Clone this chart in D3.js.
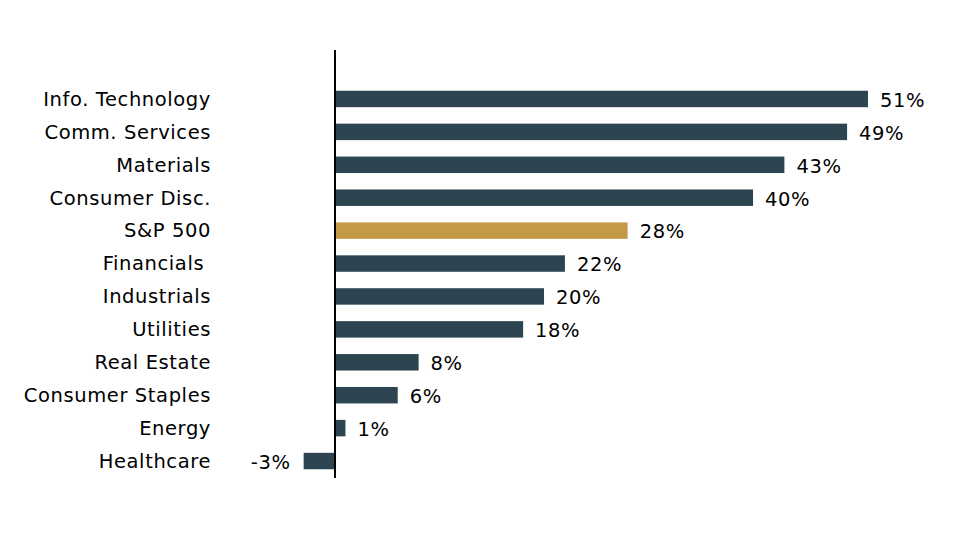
<!DOCTYPE html>
<html><head><meta charset="utf-8">
<script src="https://cdn.jsdelivr.net/npm/d3@7"></script>
<style>body{margin:0;background:#fff}text{font-family:Verdana,"DejaVu Sans",sans-serif}</style>
</head><body><svg id="c" width="970" height="538"></svg>
<script>
const categories = ["Info. Technology","Comm. Services","Materials","Consumer Disc.","S&P 500","Financials ","Industrials","Utilities","Real Estate","Consumer Staples","Energy","Healthcare"];
const values = [51,49,43,40,28,22,20,18,8,6,1,-3];
const highlight = "S&P 500";

const svg = d3.select("#c");
const x = d3.scaleLinear().domain([0,51]).range([335,868]);
const y = d3.scaleBand().domain(categories).range([82.5,477.5]).paddingInner(0.5).paddingOuter(0.25);
const data = categories.map((c,i)=>({c,v:values[i]}));

svg.selectAll("rect.bar").data(data).join("rect").attr("class","bar")
  .attr("x",d=>x(Math.min(0,d.v))).attr("width",d=>Math.abs(x(d.v)-x(0)))
  .attr("y",d=>y(d.c)).attr("height",y.bandwidth())
  .attr("fill",d=>d.c===highlight?"#c39a45":"#2d4550");

svg.append("line").attr("x1",x(0)).attr("x2",x(0)).attr("y1",50).attr("y2",478)
  .attr("stroke","#000").attr("stroke-width",2);

svg.selectAll("text.cat").data(data).join("text").attr("class","cat")
  .attr("x",211).attr("y",d=>y(d.c)+y.bandwidth()/2).attr("dy","0.35em")
  .attr("text-anchor","end").attr("font-size",19.5).attr("letter-spacing",0.6).attr("fill","#000")
  .style("white-space","pre").text(d=>d.c);

svg.selectAll("text.val").data(data).join("text").attr("class","val")
  .attr("x",d=>d.v>=0?x(d.v)+12:x(d.v)-13)
  .attr("y",d=>y(d.c)+y.bandwidth()/2+1).attr("dy","0.35em")
  .attr("text-anchor",d=>d.v>=0?"start":"end").attr("font-size",19.5).attr("letter-spacing",0.6).attr("fill","#000")
  .text(d=>d.v+"%");
</script></body></html>
